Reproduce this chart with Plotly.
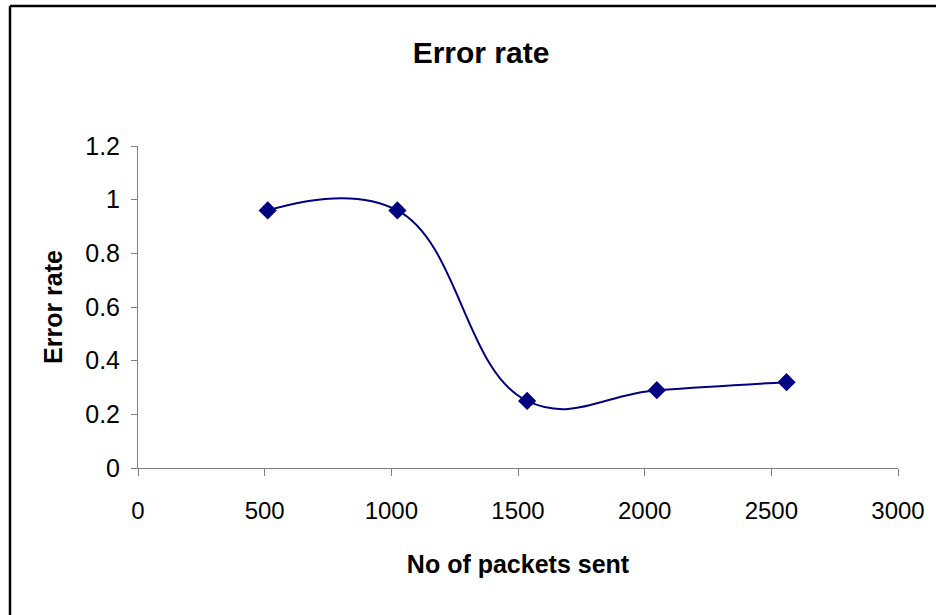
import plotly.graph_objects as go

packets = [512, 1024, 1536, 2048, 2560]
error_rate = [0.96, 0.96, 0.25, 0.29, 0.32]
x_ticks = [0, 500, 1000, 1500, 2000, 2500, 3000]
y_ticks = [0, 0.2, 0.4, 0.6, 0.8, 1, 1.2]
y_tick_text = ["0", "0.2", "0.4", "0.6", "0.8", "1", "1.2"]

W, H = 936, 615
L, R, T, B = 138, 38, 146, 147
pw, ph = W - L - R, H - T - B

fig = go.Figure()
fig.add_trace(go.Scatter(
    x=packets, y=error_rate, mode="lines+markers",
    line=dict(color="#000080", width=2, shape="spline", smoothing=1.2),
    marker=dict(symbol="diamond", size=14, color="#000080"),
    showlegend=False,
))

font = "Liberation Sans, Arial, sans-serif"
fig.update_layout(
    width=W, height=H,
    margin=dict(l=L, r=R, t=T, b=B, autoexpand=False),
    paper_bgcolor="white", plot_bgcolor="white",
    font=dict(family=font, size=25, color="black"),
    title=dict(text="<b>Error rate</b>", x=481 / W, xanchor="center",
               y=1 - 52 / H, yanchor="middle",
               font=dict(size=30, family=font, color="black")),
    xaxis=dict(range=[0, 3000], tickvals=x_ticks, ticks="outside", ticklen=7,
               tickcolor="#808080", showline=True, linecolor="#808080", linewidth=1,
               showgrid=False, zeroline=False, ticklabelstandoff=14,
               tickfont=dict(size=24),
               title=dict(text="<b>No of packets sent</b>", standoff=32,
                          font=dict(size=25))),
    yaxis=dict(range=[0, 1.2], tickvals=y_ticks, ticktext=y_tick_text,
               ticks="outside", ticklen=6, tickcolor="#808080",
               showline=True, linecolor="#808080", linewidth=1,
               showgrid=False, zeroline=False, ticklabelstandoff=6,
               tickfont=dict(size=25),
               title=dict(text="<b>Error rate</b>", standoff=15,
                          font=dict(size=25))),
)

# chart-area border (left and top edges visible in the frame)
lx = (10 - L) / pw
ty = 1 + (T - 6) / ph
fig.add_shape(type="line", xref="paper", yref="paper", x0=lx, x1=lx,
              y0=ty, y1=-1, line=dict(color="black", width=2.5))
fig.add_shape(type="line", xref="paper", yref="paper", x0=lx, x1=2,
              y0=ty, y1=ty, line=dict(color="black", width=2.5))

fig.write_html("out.html")
